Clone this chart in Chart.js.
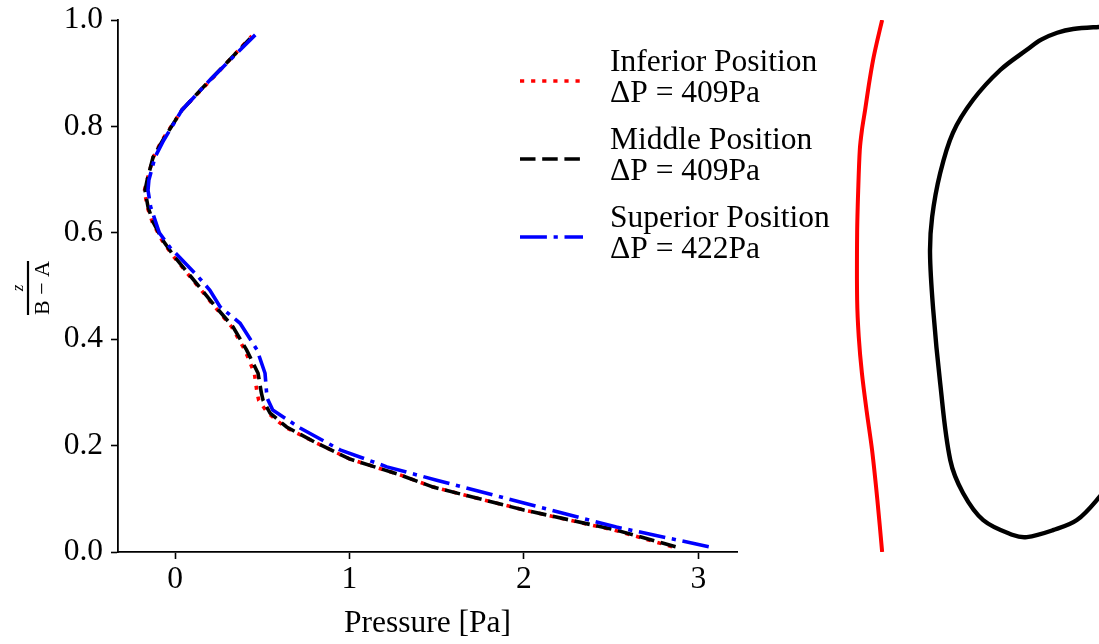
<!DOCTYPE html>
<html>
<head>
<meta charset="utf-8">
<script src="https://cdn.jsdelivr.net/npm/chart.js@4"></script>
<style>
  html, body { margin: 0; padding: 0; background: #fff; }
  #wrap { position: relative; width: 1099px; height: 644px; overflow: hidden; }
  #main { position: absolute; left: 0; top: 0; }
  #side { position: absolute; left: 800px; top: 0; }
</style>
</head>
<body>
<div id="wrap">
  <canvas id="main" width="1099" height="644"></canvas>
  <canvas id="side" width="299" height="644"></canvas>
</div>
<script>
// Pressure profiles along the normalised height z/(B − A)
const inferiorZ = [0.010, 0.041, 0.079, 0.122, 0.145, 0.175, 0.205, 0.235, 0.262, 0.285, 0.300, 0.336, 0.380, 0.423, 0.468, 0.498, 0.526, 0.558, 0.586, 0.620, 0.649, 0.680, 0.699, 0.742, 0.774, 0.831, 0.887, 0.970];
const inferiorP = [2.85, 2.52, 2.00, 1.48, 1.29, 1.00, 0.81, 0.63, 0.53, 0.48, 0.47, 0.455, 0.40, 0.325, 0.21, 0.135, 0.065, -0.015, -0.075, -0.13, -0.16, -0.175, -0.16, -0.125, -0.075, 0.04, 0.205, 0.44];

const middleZ = [0.010, 0.041, 0.079, 0.122, 0.145, 0.175, 0.205, 0.235, 0.261, 0.285, 0.299, 0.336, 0.380, 0.423, 0.468, 0.498, 0.526, 0.558, 0.586, 0.620, 0.649, 0.680, 0.699, 0.742, 0.774, 0.831, 0.887, 0.965];
const middleP = [2.87, 2.53, 2.00, 1.48, 1.29, 1.00, 0.81, 0.64, 0.545, 0.505, 0.495, 0.476, 0.41, 0.333, 0.215, 0.14, 0.07, -0.01, -0.07, -0.126, -0.155, -0.172, -0.16, -0.126, -0.07, 0.04, 0.20, 0.43];

const superiorZ = [0.010, 0.047, 0.092, 0.135, 0.160, 0.192, 0.233, 0.267, 0.290, 0.299, 0.336, 0.380, 0.430, 0.461, 0.492, 0.520, 0.573, 0.600, 0.649, 0.680, 0.699, 0.742, 0.774, 0.831, 0.887, 0.972];
const superiorP = [3.06, 2.53, 2.00, 1.50, 1.215, 0.946, 0.717, 0.56, 0.527, 0.525, 0.516, 0.47, 0.373, 0.258, 0.20, 0.126, -0.03, -0.09, -0.14, -0.155, -0.15, -0.115, -0.065, 0.04, 0.20, 0.46];

const seriesLabels = [
  ['Inferior Position', 'ΔP = 409Pa'],
  ['Middle Position', 'ΔP = 409Pa'],
  ['Superior Position', 'ΔP = 422Pa']
];

const xTicks = [0, 1, 2, 3];
const yTicks = [0, 0.2, 0.4, 0.6, 0.8, 1.0];

// Geometry sketch: wall trace and cross-section outline (same vertical units)
const wallX = [0.051, 0.042, 0.034, 0.026, 0.019, 0.013, 0.009, 0.006, 0.004, 0.004, 0.007, 0.013, 0.022, 0.032, 0.042, 0.051];
const wallZ = [1.000, 0.962, 0.925, 0.878, 0.831, 0.793, 0.756, 0.680, 0.600, 0.474, 0.405, 0.336, 0.264, 0.192, 0.098, 0.000];
const outlineX = [0.540, 0.500, 0.459, 0.410, 0.380, 0.350, 0.323, 0.273, 0.222, 0.184, 0.160, 0.145, 0.141, 0.147, 0.160, 0.179, 0.203, 0.241, 0.297, 0.323, 0.372, 0.417, 0.459, 0.498];
const outlineZ = [0.988, 0.989, 0.987, 0.983, 0.976, 0.963, 0.944, 0.906, 0.850, 0.788, 0.712, 0.630, 0.562, 0.455, 0.318, 0.173, 0.111, 0.060, 0.032, 0.028, 0.041, 0.060, 0.103, 0.154];

const SERIF = '"Liberation Serif", "Times New Roman", serif';
const FS = 31.5;
const LW = 3.6;

function pts(xs, ys) { return xs.map((x, i) => ({ x: x, y: ys[i] })); }

function lineSet(label, xs, ys, color, dash, order) {
  return {
    label: label, data: pts(xs, ys), showLine: true, borderColor: color,
    backgroundColor: color, borderWidth: LW, borderDash: dash, borderCapStyle: 'butt',
    pointRadius: 0, pointHoverRadius: 0, tension: 0, fill: false, order: order
  };
}

// Legend with two-line labels, drawn next to a line sample
const legendBox = { x0: 520, x1: 583, textX: 610, top: 62, rowGap: 31, entryGap: 78, sampleOffset: 19 };
const legendPlugin = {
  id: 'twoLineLegend',
  afterDraw(chart) {
    const ctx = chart.ctx;
    ctx.save();
    chart.data.datasets.forEach((ds, i) => {
      const y0 = legendBox.top + i * legendBox.entryGap;
      const ys = y0 + legendBox.sampleOffset;
      ctx.strokeStyle = ds.borderColor;
      ctx.lineWidth = ds.borderWidth;
      ctx.lineCap = 'butt';
      ctx.setLineDash(ds.borderDash);
      ctx.beginPath();
      ctx.moveTo(legendBox.x0, ys);
      ctx.lineTo(legendBox.x1, ys);
      ctx.stroke();
      ctx.setLineDash([]);
      ctx.fillStyle = '#000';
      ctx.font = FS + 'px ' + SERIF;
      ctx.textAlign = 'left';
      ctx.textBaseline = 'middle';
      ds.label.forEach((line, k) => ctx.fillText(line, legendBox.textX, y0 + 1 + k * legendBox.rowGap));
    });
    ctx.restore();
  }
};

// Fraction-style y-axis title: z over (B − A), rotated
const yTitlePlugin = {
  id: 'fractionTitle',
  afterDraw(chart) {
    const ctx = chart.ctx;
    const area = chart.chartArea;
    const cy = area.top + (area.bottom - area.top) * 0.5 + 2;
    ctx.save();
    ctx.translate(28, cy);
    ctx.rotate(-Math.PI / 2);
    ctx.fillStyle = '#000';
    ctx.strokeStyle = '#000';
    ctx.lineWidth = 2.2;
    ctx.beginPath();
    ctx.moveTo(-27, 0);
    ctx.lineTo(27, 0);
    ctx.stroke();
    ctx.textAlign = 'center';
    ctx.font = 'italic 17px ' + SERIF;
    ctx.textBaseline = 'alphabetic';
    ctx.fillText('z', 0, -5);
    ctx.font = '22px ' + SERIF;
    ctx.textBaseline = 'top';
    ctx.fillText('B − A', 0, 4);
    ctx.restore();
  }
};

new Chart(document.getElementById('main'), {
  type: 'scatter',
  data: {
    datasets: [
      lineSet(seriesLabels[0], inferiorP, inferiorZ, '#ff0000', [4.2, 6.9], 3),
      lineSet(seriesLabels[1], middleP, middleZ, '#000000', [15.5, 6.7], 2),
      lineSet(seriesLabels[2], superiorP, superiorZ, '#0000ff', [26.9, 6.7, 4.2, 6.7], 1)
    ]
  },
  options: {
    responsive: false,
    animation: false,
    devicePixelRatio: 1,
    layout: { padding: { top: 20, right: 362, bottom: 0, left: 0 } },
    plugins: { legend: { display: false }, tooltip: { enabled: false } },
    scales: {
      x: {
        type: 'linear', min: -0.327, max: 3.222,
        afterFit(scale) { scale.height = 92; scale.paddingLeft = 0; scale.paddingRight = 0; },
        afterBuildTicks(scale) { scale.ticks = xTicks.map(v => ({ value: v })); },
        grid: { display: true, drawOnChartArea: false, drawTicks: true, tickLength: 7, tickWidth: 1.6, color: '#000' },
        border: { display: true, color: '#000', width: 1.8 },
        ticks: { color: '#000', font: { family: SERIF, size: FS }, padding: 2, maxRotation: 0,
                 callback: v => String(v) },
        title: { display: true, text: 'Pressure [Pa]', color: '#000', font: { family: SERIF, size: FS },
                 padding: { top: 0, bottom: 1 } }
      },
      y: {
        type: 'linear', min: 0, max: 1,
        afterFit(scale) { scale.width = 118; scale.paddingTop = 0; scale.paddingBottom = 0; },
        afterBuildTicks(scale) { scale.ticks = yTicks.map(v => ({ value: v })); },
        grid: { display: true, drawOnChartArea: false, drawTicks: true, tickLength: 7, tickWidth: 1.6, color: '#000' },
        border: { display: true, color: '#000', width: 1.8 },
        ticks: { color: '#000', font: { family: SERIF, size: FS }, padding: 8,
                 callback: v => Number(v).toFixed(1) }
      }
    }
  },
  plugins: [legendPlugin, yTitlePlugin]
});

new Chart(document.getElementById('side'), {
  type: 'scatter',
  data: {
    datasets: [
      { label: 'wall', data: pts(wallX, wallZ), showLine: true, borderColor: '#ff0000', borderWidth: 4,
        pointRadius: 0, tension: 0.3, fill: false },
      { label: 'outline', data: pts(outlineX, outlineZ), showLine: true, borderColor: '#000000', borderWidth: 4.4,
        pointRadius: 0, tension: 0.35, fill: false }
    ]
  },
  options: {
    responsive: false,
    animation: false,
    devicePixelRatio: 1,
    layout: { padding: { top: 20, right: 0, bottom: 92, left: 0 } },
    plugins: { legend: { display: false }, tooltip: { enabled: false } },
    scales: {
      x: { type: 'linear', display: false, min: -0.1034, max: 0.4586 },
      y: { type: 'linear', display: false, min: 0, max: 1 }
    }
  }
});
</script>
</body>
</html>
